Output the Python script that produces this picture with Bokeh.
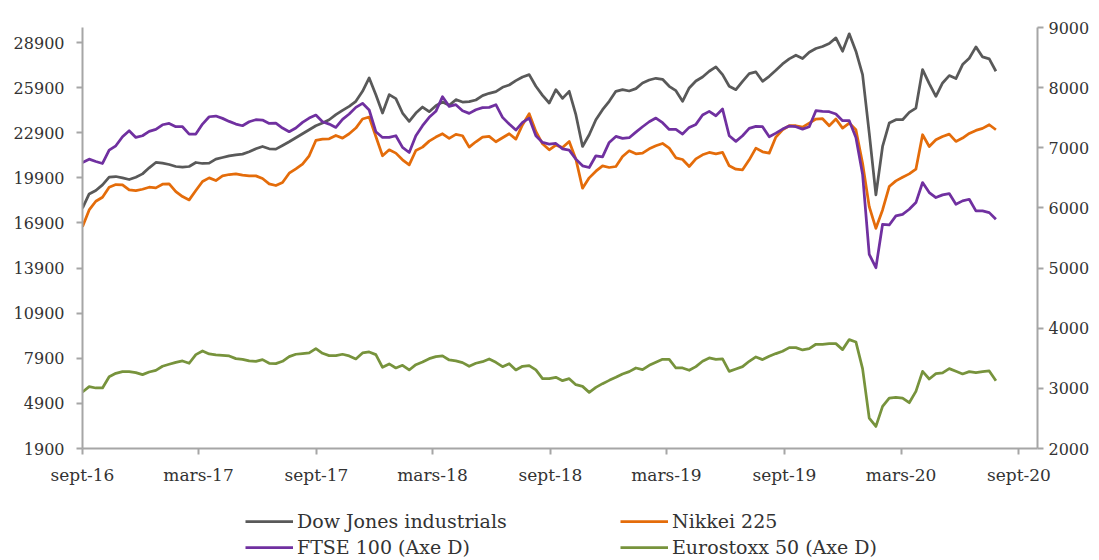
import pandas as pd
from bokeh.plotting import figure
from bokeh.layouts import column
from bokeh.models import Range1d, LinearAxis, FixedTicker, Legend, LegendItem, ColumnDataSource
from bokeh.embed import file_html
from bokeh.resources import INLINE

# ---------------- data ----------------
date_start = "2016-09-01"
date_end = "2020-07-27"
n_points = 138

dow = [17880, 18830, 19055, 19433, 19944, 19989, 19900, 19789, 19944, 20166,
       20566, 20922, 20877, 20789, 20655, 20611, 20655, 20922, 20855, 20877,
       21144, 21255, 21366, 21433, 21477, 21633, 21833, 21989, 21833, 21811,
       22055, 22300, 22566, 22833, 23100, 23366, 23544, 23766, 24100, 24389,
       24655, 24989, 25655, 26544, 25433, 24211, 25433, 25166, 24211, 23655,
       24211, 24611, 24300, 24700, 24944, 24722, 25100, 24944, 24966, 25077,
       25366, 25522, 25633, 25922, 26077, 26366, 26611, 26766, 25989, 25389,
       24877, 25766, 25189, 25655, 24100, 21989, 22766, 23766, 24433, 24989,
       25655, 25766, 25677, 25833, 26211, 26411, 26522, 26455, 25989, 25700,
       24989, 25877, 26344, 26611, 26989, 27277, 26766, 25989, 25766, 26322,
       26833, 26944, 26322, 26655, 27055, 27477, 27811, 28055, 27833, 28255,
       28500, 28633, 28833, 29211, 28322, 29477, 28322, 26766, 22877, 18766,
       21989, 23544, 23766, 23766, 24255, 24544, 27100, 26166, 25322, 26211,
       26700, 26500, 27433, 27855, 28611, 27944, 27811, 26989]

nikkei = [16655, 17766, 18344, 18611, 19277, 19455, 19433, 19100, 19055, 19144,
          19277, 19233, 19477, 19500, 18989, 18655, 18433, 19055, 19655, 19900,
          19722, 20033, 20122, 20166, 20077, 20033, 20033, 19855, 19500, 19389,
          19589, 20211, 20500, 20811, 21366, 22389, 22477, 22500, 22722, 22544,
          22833, 23211, 23811, 23944, 22655, 21366, 21766, 21544, 21100, 20766,
          21722, 21944, 22344, 22611, 22833, 22522, 22789, 22700, 21944, 22300,
          22611, 22655, 22300, 22566, 22833, 22477, 23433, 24166, 22989, 22166,
          21766, 22077, 21922, 22322, 21144, 19211, 19900, 20344, 20700, 20589,
          20655, 21322, 21700, 21500, 21544, 21833, 22033, 22189, 21877, 21233,
          21122, 20655, 21166, 21433, 21589, 21500, 21589, 20700, 20477, 20433,
          21100, 21877, 21633, 21544, 22611, 23100, 23366, 23366, 23277, 23544,
          23811, 23833, 23366, 23811, 23211, 23544, 23100, 20877, 17989, 16544,
          17766, 19322, 19700, 19944, 20166, 20477, 22766, 21989, 22433, 22655,
          22811, 22322, 22544, 22855, 23055, 23189, 23433, 23100]

ftse = [6756, 6811, 6772, 6739, 6961, 7033, 7183, 7283, 7172, 7200,
        7272, 7305, 7383, 7405, 7350, 7350, 7228, 7228, 7394, 7516,
        7528, 7489, 7439, 7394, 7367, 7433, 7467, 7461, 7405, 7411,
        7328, 7267, 7328, 7422, 7494, 7544, 7433, 7394, 7339, 7472,
        7561, 7672, 7739, 7628, 7267, 7172, 7172, 7200, 7006, 6922,
        7200, 7367, 7506, 7606, 7850, 7689, 7717, 7617, 7572, 7633,
        7667, 7672, 7717, 7506, 7394, 7294, 7422, 7494, 7200, 7089,
        7061, 7072, 6983, 6961, 6811, 6700, 6672, 6867, 6850, 7089,
        7189, 7156, 7167, 7261, 7350, 7433, 7494, 7417, 7305, 7305,
        7228, 7339, 7389, 7544, 7606, 7533, 7644, 7200, 7106, 7200,
        7322, 7356, 7350, 7183, 7244, 7311, 7361, 7350, 7311, 7350,
        7617, 7606, 7600, 7561, 7450, 7450, 7172, 6561, 5228, 5006,
        5728, 5717, 5867, 5894, 5978, 6089, 6422, 6256, 6172, 6217,
        6239, 6061, 6117, 6144, 5950, 5950, 5922, 5811]

eurostoxx = [2939, 3028, 3006, 3006, 3194, 3250, 3278, 3278, 3261, 3228,
             3272, 3300, 3367, 3400, 3433, 3456, 3417, 3561, 3622, 3572,
             3556, 3550, 3539, 3494, 3483, 3456, 3450, 3478, 3417, 3411,
             3450, 3528, 3567, 3578, 3589, 3661, 3583, 3544, 3544, 3567,
             3539, 3489, 3589, 3606, 3561, 3350, 3406, 3339, 3383, 3306,
             3394, 3439, 3494, 3528, 3539, 3472, 3456, 3428, 3367, 3417,
             3444, 3489, 3433, 3361, 3411, 3306, 3367, 3378, 3306, 3161,
             3161, 3183, 3128, 3161, 3061, 3033, 2933, 3017, 3078, 3133,
             3183, 3239, 3278, 3339, 3311, 3383, 3433, 3483, 3483, 3339,
             3339, 3300, 3361, 3450, 3506, 3483, 3489, 3283, 3322, 3361,
             3450, 3522, 3478, 3533, 3578, 3617, 3678, 3678, 3639, 3661,
             3733, 3733, 3744, 3744, 3644, 3811, 3772, 3328, 2506, 2367,
             2700, 2839, 2850, 2839, 2761, 2950, 3283, 3156, 3244, 3256,
             3328, 3283, 3239, 3278, 3261, 3278, 3289, 3128]

x_tick_dates = ["2016-09-01", "2017-03-01", "2017-09-01", "2018-03-01", "2018-09-01",
                "2019-03-01", "2019-09-01", "2020-03-01", "2020-09-01"]
x_tick_labels = ["sept-16", "mars-17", "sept-17", "mars-18", "sept-18",
                 "mars-19", "sept-19", "mars-20", "sept-20"]
left_ticks = [1900, 4900, 7900, 10900, 13900, 16900, 19900, 22900, 25900, 28900]
right_ticks = [2000, 3000, 4000, 5000, 6000, 7000, 8000, 9000]
left_min, left_max = 1900, 29900
right_min, right_max = 2000, 9000
x_min, x_max = "2016-09-01", "2020-09-29 21:00"

series_names = ["Dow Jones industrials", "Nikkei 225", "FTSE 100 (Axe D)", "Eurostoxx 50 (Axe D)"]
series_colors = ["#595959", "#E46C0A", "#7030A0", "#77933C"]

# ---------------- chart ----------------
dates = pd.date_range(date_start, date_end, periods=n_points)
src = ColumnDataSource(dict(date=dates, dow=dow, nikkei=nikkei, ftse=ftse, euro=eurostoxx))

FONT = "DejaVu Serif"
TXT = "#333333"
AXC = "#A6A6A6"
LW = 2.75

p = figure(width=1099, height=490, x_axis_type="datetime",
           x_range=Range1d(pd.Timestamp(x_min), pd.Timestamp(x_max)),
           y_range=Range1d(left_min, left_max),
           output_backend="svg", toolbar_location=None,
           min_border_left=82, min_border_right=62, min_border_top=27, min_border_bottom=42)
p.extra_y_ranges = {"right": Range1d(right_min, right_max)}
p.outline_line_color = None
p.grid.visible = False

p.line("date", "dow", source=src, color=series_colors[0], line_width=LW, line_join="round")
p.line("date", "nikkei", source=src, color=series_colors[1], line_width=LW, line_join="round")
p.line("date", "ftse", source=src, color=series_colors[2], line_width=LW, line_join="round",
       y_range_name="right")
p.line("date", "euro", source=src, color=series_colors[3], line_width=LW, line_join="round",
       y_range_name="right")

right_axis = LinearAxis(y_range_name="right")
p.add_layout(right_axis, "right")


def style(ax, size):
    ax.axis_line_color = AXC
    ax.axis_line_width = 2
    ax.major_tick_line_color = AXC
    ax.major_tick_line_width = 2
    ax.major_tick_out = 6
    ax.major_tick_in = 0
    ax.minor_tick_out = 0
    ax.minor_tick_in = 0
    ax.major_label_text_font = FONT
    ax.major_label_text_font_size = size
    ax.major_label_text_color = TXT


xax = p.xaxis[0]
tick_ms = [int(pd.Timestamp(d).value // 10**6) for d in x_tick_dates]
xax.ticker = FixedTicker(ticks=tick_ms)
xax.major_label_overrides = {t: lab for t, lab in zip(tick_ms, x_tick_labels)}
style(xax, "17px")
xax.major_label_standoff = 10

yax = p.yaxis[0]
yax.ticker = FixedTicker(ticks=left_ticks)
style(yax, "16px")
yax.major_label_standoff = 12

right_axis.ticker = FixedTicker(ticks=right_ticks)
style(right_axis, "16px")
right_axis.major_label_standoff = 5

# ---------------- legend strip (its frame is aligned with the chart frame) ----------------
lg = figure(width=1099, height=70, x_range=Range1d(0, 1), y_range=Range1d(0, 1),
            output_backend="svg", toolbar_location=None,
            x_axis_location=None, y_axis_location=None, min_border=0)
lg.outline_line_color = None
lg.grid.visible = False
# legend-key renderers: their points sit outside the strip's ranges, so only the keys show
key_src = ColumnDataSource(dict(x=[-5, -4], y=[-5, -4]))
leg_r = [lg.line("x", "y", source=key_src, color=c, line_width=LW) for c in series_colors]


def make_legend(idx, x):
    L = Legend(items=[LegendItem(label=series_names[i], renderers=[leg_r[i]]) for i in idx],
               location=(x, 0), orientation="vertical")
    L.label_text_font = FONT
    L.label_text_font_size = "19px"
    L.label_text_color = TXT
    L.glyph_width = 48
    L.glyph_height = 26
    L.label_height = 26
    L.label_standoff = 4
    L.spacing = 0
    L.padding = 0
    L.margin = 0
    L.border_line_alpha = 0
    L.background_fill_alpha = 0
    return L


lg.add_layout(make_legend([0, 2], 163))
lg.add_layout(make_legend([1, 3], 538))

layout = column(p, lg, spacing=0)
open("out.html", "w").write(file_html(layout, INLINE))
